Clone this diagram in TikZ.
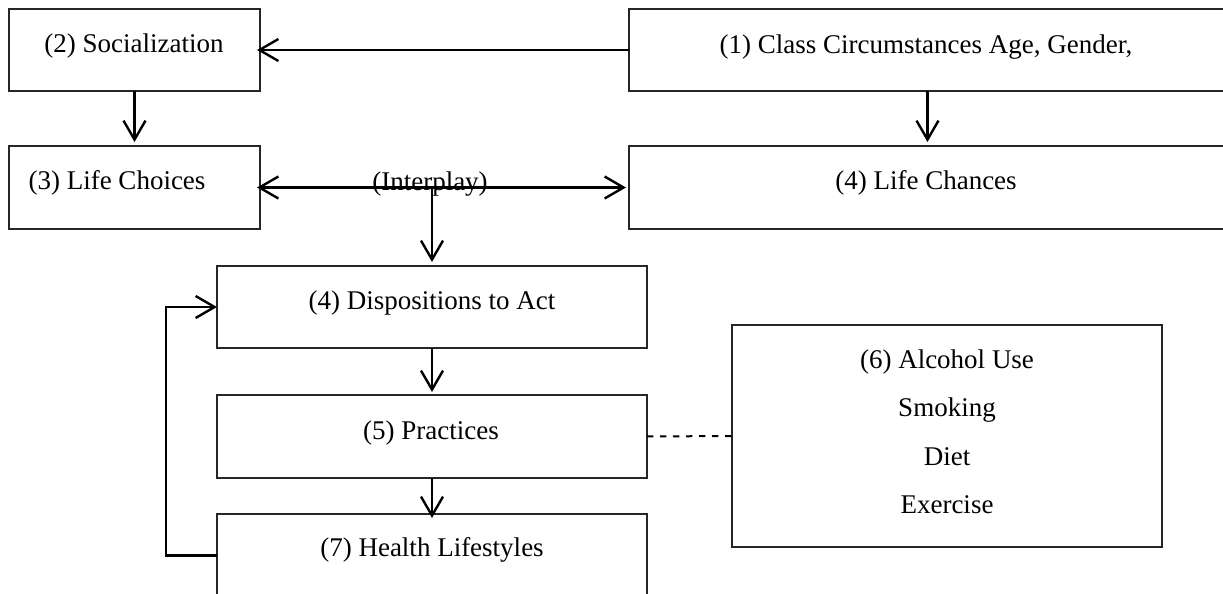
\documentclass[tikz,border=0pt]{standalone}
\usepackage{fontspec}
\setmainfont{Liberation Serif}
\usetikzlibrary{arrows.meta}
\tikzset{
  box/.style={draw=black!85, line width=0.75pt, inner sep=0pt, outer sep=0pt, rectangle},
  lbl/.style={inner sep=0pt, font=\fontsize{13.5pt}{16pt}\selectfont},
  arr/.style={line width=1.2pt, -{Straight Barb[length=9.5pt,width=11pt,line width=1.2pt]}},
  darr/.style={line width=1.2pt, {Straight Barb[length=9.5pt,width=11pt,line width=1.2pt]}-{Straight Barb[length=9.5pt,width=11pt,line width=1.2pt]}},
  dash line/.style={line width=1pt, dash pattern=on 3.2pt off 3.3pt}
}
\begin{document}
\begin{tikzpicture}[x=0.5pt,y=-0.5pt]
\useasboundingbox (0,0) rectangle (1223,594);
% boxes (px coordinates)
\node[box, minimum width=125.5pt, minimum height=41pt] (soc) at (134.5,50) {};
\node[box, minimum width=298.5pt, minimum height=41pt] (cls) at (927.5,50) {};
\node[box, minimum width=125.5pt, minimum height=41.5pt] (cho) at (134.5,187.5) {};
\node[box, minimum width=298.5pt, minimum height=41.5pt] (chn) at (927.5,187.5) {};
\node[box, minimum width=215pt, minimum height=41pt] (dis) at (432,307) {};
\node[box, minimum width=215pt, minimum height=41.5pt] (pra) at (432,436.5) {};
\node[box, minimum width=215pt, minimum height=41.5pt] (hea) at (432,555.5) {};
\node[box, minimum width=215pt, minimum height=111pt] (alc) at (947,436) {};
% texts
\node[lbl] (socT) at (134,46) {(2) Socialization};
\node[lbl] (clsT) at (926,47) {(1) Class Circumstances Age, Gender,};
\node[lbl] (choT) at (117,183) {(3) Life Choices};
\node[lbl] (chnT) at (926,183) {(4) Life Chances};
\node[lbl] (disT) at (432,303) {(4) Dispositions to Act};
\node[lbl] (praT) at (431,433) {(5) Practices};
\node[lbl] (heaT) at (432,550) {(7) Health Lifestyles};
\node[lbl] (alc1) at (947,362) {(6) Alcohol Use};
\node[lbl] (alc2) at (947,410) {Smoking};
\node[lbl] (alc3) at (947,457) {Diet};
\node[lbl] (alc4) at (947,505) {Exercise};
% connectors
\draw[arr, shorten >=-1.5pt] (cls.west) -- (soc.east);
\draw[arr, shorten >=2pt] (soc.south) -- (cho.north);
\draw[arr, shorten >=2pt] (cls.south) -- (chn.north);
\draw[darr, shorten <=-1.5pt, shorten >=1.5pt] (cho.east) -- (chn.west);
\node[lbl] (ipT) at (430,184) {(Interplay)};
\coordinate (ip) at (cho.east -| dis.north);
\draw[arr, shorten >=2pt] (ip) -- (dis.north);
\draw[arr, shorten >=1.5pt] (dis.south) -- (pra.north);
\draw[arr, shorten >=-2pt] (pra.south) -- (hea.north);
\draw[dash line] (pra.east) -- (alc.west);
\draw[arr] (hea.west) -- ++(-51,0) |- (dis.west);
\end{tikzpicture}
\end{document}
